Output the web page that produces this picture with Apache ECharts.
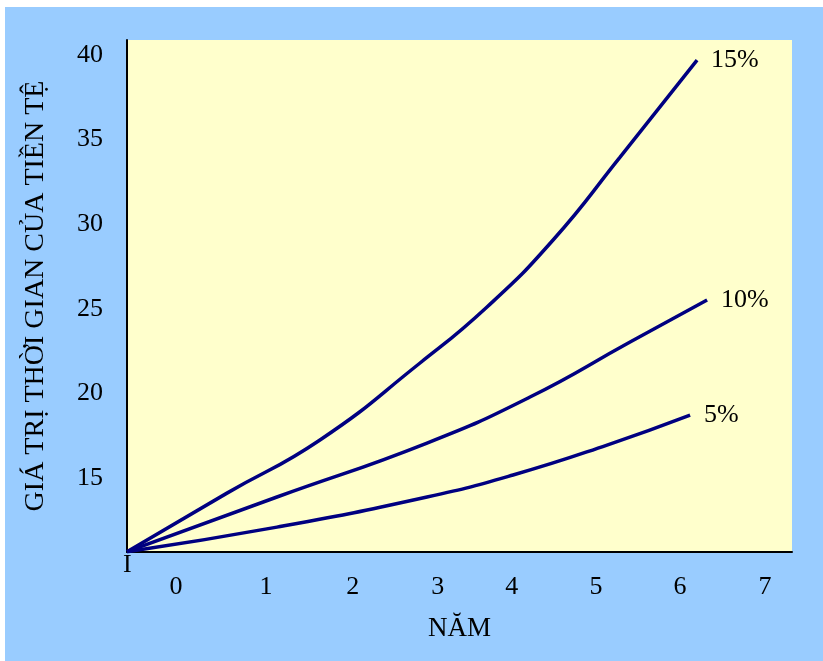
<!DOCTYPE html>
<html>
<head>
<meta charset="utf-8">
<script src="https://cdn.jsdelivr.net/npm/echarts@6/dist/echarts.min.js"></script>
<style>html,body{margin:0;padding:0;background:#fff}#c{width:823px;height:661px}</style>
</head>
<body>
<div id="c"></div>
<script>
// Tick labels and their positions (years axis)
const xTickLabels = ['0','1','2','3','4','5','6','7'];
const xTickPos = [0, 1.07, 2.10, 3.11, 3.99, 4.99, 5.99, 7.0];
const yTickValues = [15, 20, 25, 30, 35, 40];

// Curves: [x, value]
const rate15 = [[-0.582,10.65],[0.606,14.11],[1.711,17.25],[2.900,21.80],[3.696,25.11],[4.481,29.07],[5.277,33.97],[6.192,39.70]];
const rate10 = [[-0.582,10.65],[1.200,13.88],[2.983,17.07],[4.207,19.79],[5.396,23.04],[6.311,25.52]];
const rate5  = [[-0.582,10.65],[1.200,12.10],[2.983,13.88],[4.005,15.18],[5.122,16.95],[6.109,18.72]];
const seriesNames = ['15%','10%','5%'];

const font = '"Liberation Serif", "DejaVu Serif", serif';
const chart = echarts.init(document.getElementById('c'), null, {renderer:'canvas'});

function line(name, data) {
  return {
    name, type:'line', data, smooth:0.5, symbol:'none',
    lineStyle:{color:'#000080', width:3.5},
    endLabel:{show:true, formatter:name, color:'#000', fontFamily:font, fontSize:26, distance:14},
    z:3
  };
}

chart.setOption({
  animation:false,
  backgroundColor:'#fff',
  graphic:[
    {type:'rect', left:5, top:7, shape:{width:818, height:654}, style:{fill:'#99CCFF'}, z:-10},
    {type:'text', left:123, top:552, style:{text:'I', font:'26px ' + font, fill:'#000'}, z:5}
  ],
  grid:{left:127, top:40, right:31, bottom:109, show:true, backgroundColor:'#FFFFCC', borderWidth:0},
  xAxis:{
    type:'value', min:-0.582, max:7.32,
    axisLine:{show:true, onZero:false, lineStyle:{color:'#000', width:2}},
    axisTick:{show:false},
    splitLine:{show:false},
    axisLabel:{
      customValues:xTickPos, margin:22, color:'#000', fontFamily:font, fontSize:26,
      formatter:(v)=>{ const i = xTickPos.findIndex(p=>Math.abs(p-v)<1e-6); return i>=0 ? xTickLabels[i] : ''; }
    },
    name:'NĂM', nameLocation:'middle', nameGap:63,
    nameTextStyle:{color:'#000', fontFamily:font, fontSize:27}
  },
  yAxis:{
    type:'value', min:10.63, max:40.89,
    axisLine:{show:true, onZero:false, lineStyle:{color:'#000', width:2}},
    axisTick:{show:false},
    splitLine:{show:false},
    axisLabel:{customValues:yTickValues, margin:24, color:'#000', fontFamily:font, fontSize:26},
    name:'GIÁ TRỊ THỜI GIAN CỦA TIỀN TỆ', nameLocation:'middle', nameGap:77, nameRotate:90,
    nameTextStyle:{color:'#000', fontFamily:font, fontSize:28}
  },
  series:[
    line(seriesNames[0], rate15),
    line(seriesNames[1], rate10),
    line(seriesNames[2], rate5)
  ]
});
</script>
</body>
</html>
